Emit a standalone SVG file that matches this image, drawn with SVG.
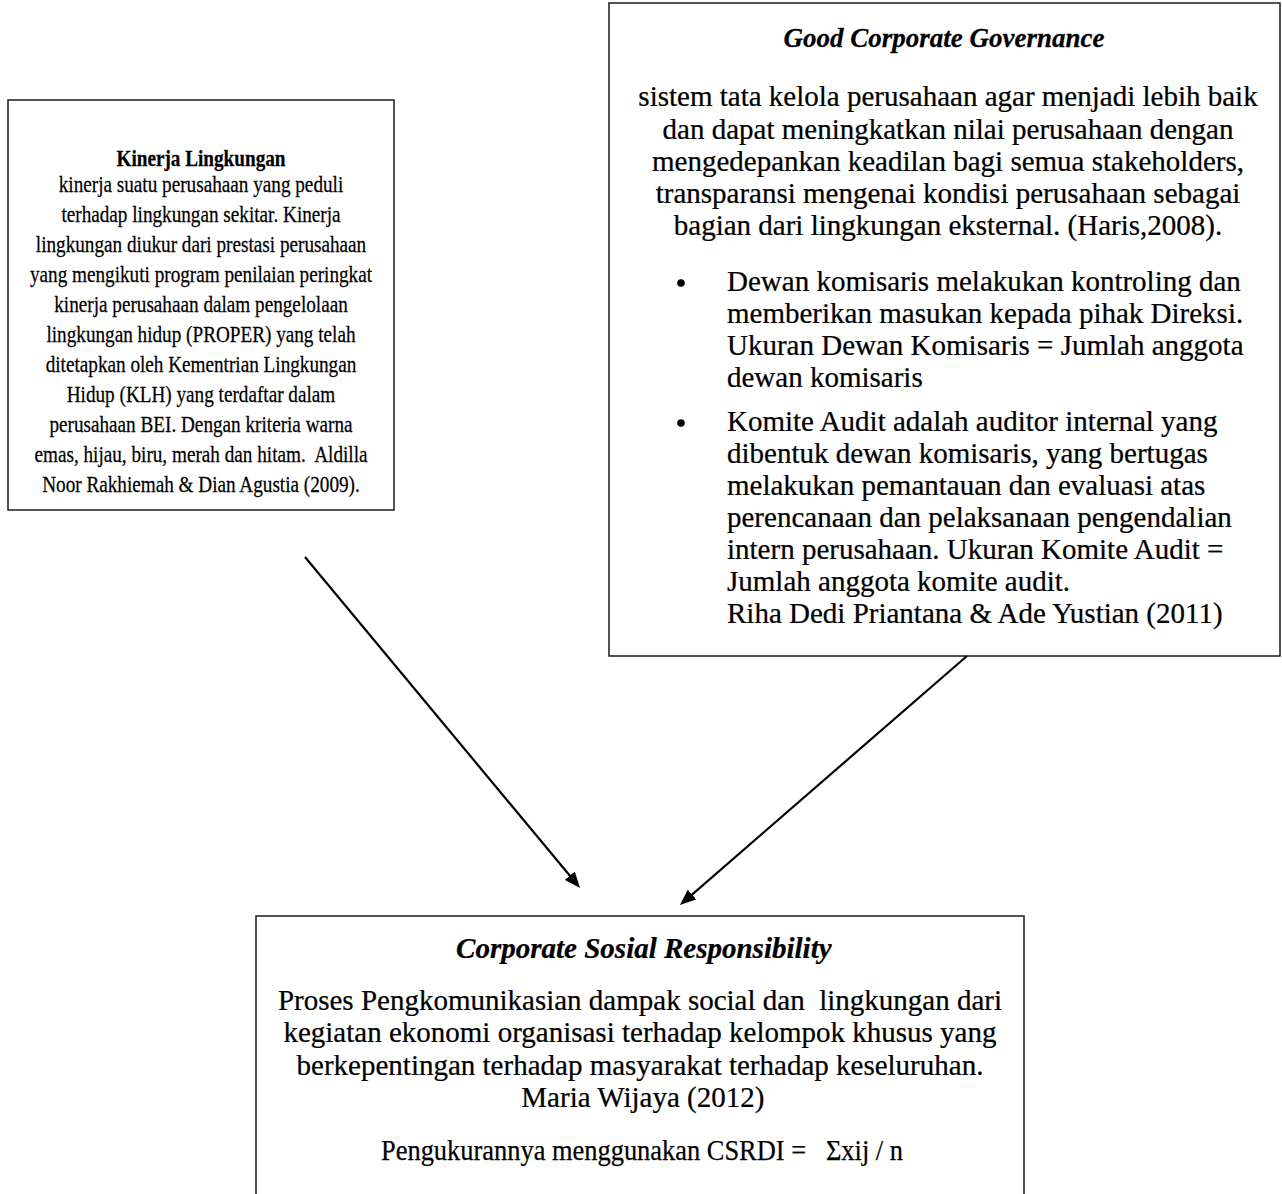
<svg xmlns="http://www.w3.org/2000/svg" width="1282" height="1194" viewBox="0 0 1282 1194">
<defs>
<style>
.box{fill:#fff;stroke:#1a1a1a;stroke-width:1.5}
.t{font-family:"Liberation Serif","Times New Roman",serif;fill:#000;stroke:#000;stroke-width:0.25}
.l{font-size:24px}
.r{font-size:30px}
.rt{font-size:28px}
.b{font-weight:bold}
.i{font-style:italic}
.c{text-anchor:middle}
.con{stroke:#000;stroke-width:2.2;fill:none}
</style>
<marker id="ah" markerWidth="16" markerHeight="13" refX="8" refY="6.5" orient="auto" markerUnits="userSpaceOnUse" viewBox="0 0 16 13">
<path d="M0,0 L16,6.5 L0,13 z" fill="#000"/>
</marker>
</defs>
<rect width="1282" height="1194" fill="#fff"/>
<g id="kinerja">
<rect class="box" x="8" y="100" width="386" height="410"/>
<g class="t l c" transform="matrix(0.80,0,0,1,40.2,0)">
<text class="b" x="201" y="166">Kinerja Lingkungan</text>
<text x="201" y="192">kinerja suatu perusahaan yang peduli</text>
<text x="201" y="222">terhadap lingkungan sekitar. Kinerja</text>
<text x="201" y="252">lingkungan diukur dari prestasi perusahaan</text>
<text x="201" y="282">yang mengikuti program penilaian peringkat</text>
<text x="201" y="312">kinerja perusahaan dalam pengelolaan</text>
<text x="201" y="342">lingkungan hidup (PROPER) yang telah</text>
<text x="201" y="372">ditetapkan oleh Kementrian Lingkungan</text>
<text x="201" y="402">Hidup (KLH) yang terdaftar dalam</text>
<text x="201" y="432">perusahaan BEI. Dengan kriteria warna</text>
<text x="201" y="462" xml:space="preserve">emas, hijau, biru, merah dan hitam.  Aldilla</text>
<text x="201" y="492">Noor Rakhiemah &amp; Dian Agustia (2009).</text>
</g>
</g>
<g id="gcg">
<rect class="box" x="609" y="3" width="671" height="653"/>
<text class="t rt b i c" x="944" y="47" transform="matrix(0.964,0,0,1,34,0)">Good Corporate Governance</text>
<g class="t r c" transform="matrix(0.967,0,0,1,31.3,0)">
<text x="948" y="106">sistem tata kelola perusahaan agar menjadi lebih baik</text>
<text x="948" y="139">dan dapat meningkatkan nilai perusahaan dengan</text>
<text x="948" y="171">mengedepankan keadilan bagi semua stakeholders,</text>
<text x="948" y="203">transparansi mengenai kondisi perusahaan sebagai</text>
<text x="948" y="235">bagian dari lingkungan eksternal. (Haris,2008).</text>
</g>
<circle cx="681" cy="283" r="3.8"/>
<circle cx="681" cy="423" r="3.8"/>
<g class="t r" transform="matrix(0.967,0,0,1,24,0)">
<text x="727" y="291">Dewan komisaris melakukan kontroling dan</text>
<text x="727" y="323">memberikan masukan kepada pihak Direksi.</text>
<text x="727" y="355">Ukuran Dewan Komisaris = Jumlah anggota</text>
<text x="727" y="387">dewan komisaris</text>
<text x="727" y="431">Komite Audit adalah auditor internal yang</text>
<text x="727" y="463">dibentuk dewan komisaris, yang bertugas</text>
<text x="727" y="495">melakukan pemantauan dan evaluasi atas</text>
<text x="727" y="527">perencanaan dan pelaksanaan pengendalian</text>
<text x="727" y="559">intern perusahaan. Ukuran Komite Audit =</text>
<text x="727" y="591">Jumlah anggota komite audit.</text>
<text x="727" y="623">Riha Dedi Priantana &amp; Ade Yustian (2011)</text>
</g>
</g>
<g id="csr">
<rect class="box" x="256" y="916" width="768" height="300"/>
<g class="t r c" transform="matrix(0.967,0,0,1,21.1,0)">
<text class="b i" x="644" y="958">Corporate Sosial Responsibility</text>
<text x="640" y="1010" xml:space="preserve">Proses Pengkomunikasian dampak social dan  lingkungan dari</text>
<text x="640" y="1042">kegiatan ekonomi organisasi terhadap kelompok khusus yang</text>
<text x="640" y="1075">berkepentingan terhadap masyarakat terhadap keseluruhan.</text>
<text x="643" y="1107">Maria Wijaya (2012)</text>
</g>
<text class="t r" x="381" y="1160" textLength="522" lengthAdjust="spacingAndGlyphs" xml:space="preserve">Pengukurannya menggunakan CSRDI =   Σxij / n</text>
</g>
<g id="connectors">
<line class="con" x1="305" y1="557" x2="574.9" y2="881.8" marker-end="url(#ah)"/>
<line class="con" x1="967" y1="656" x2="686" y2="899.8" marker-end="url(#ah)"/>
</g>
</svg>
